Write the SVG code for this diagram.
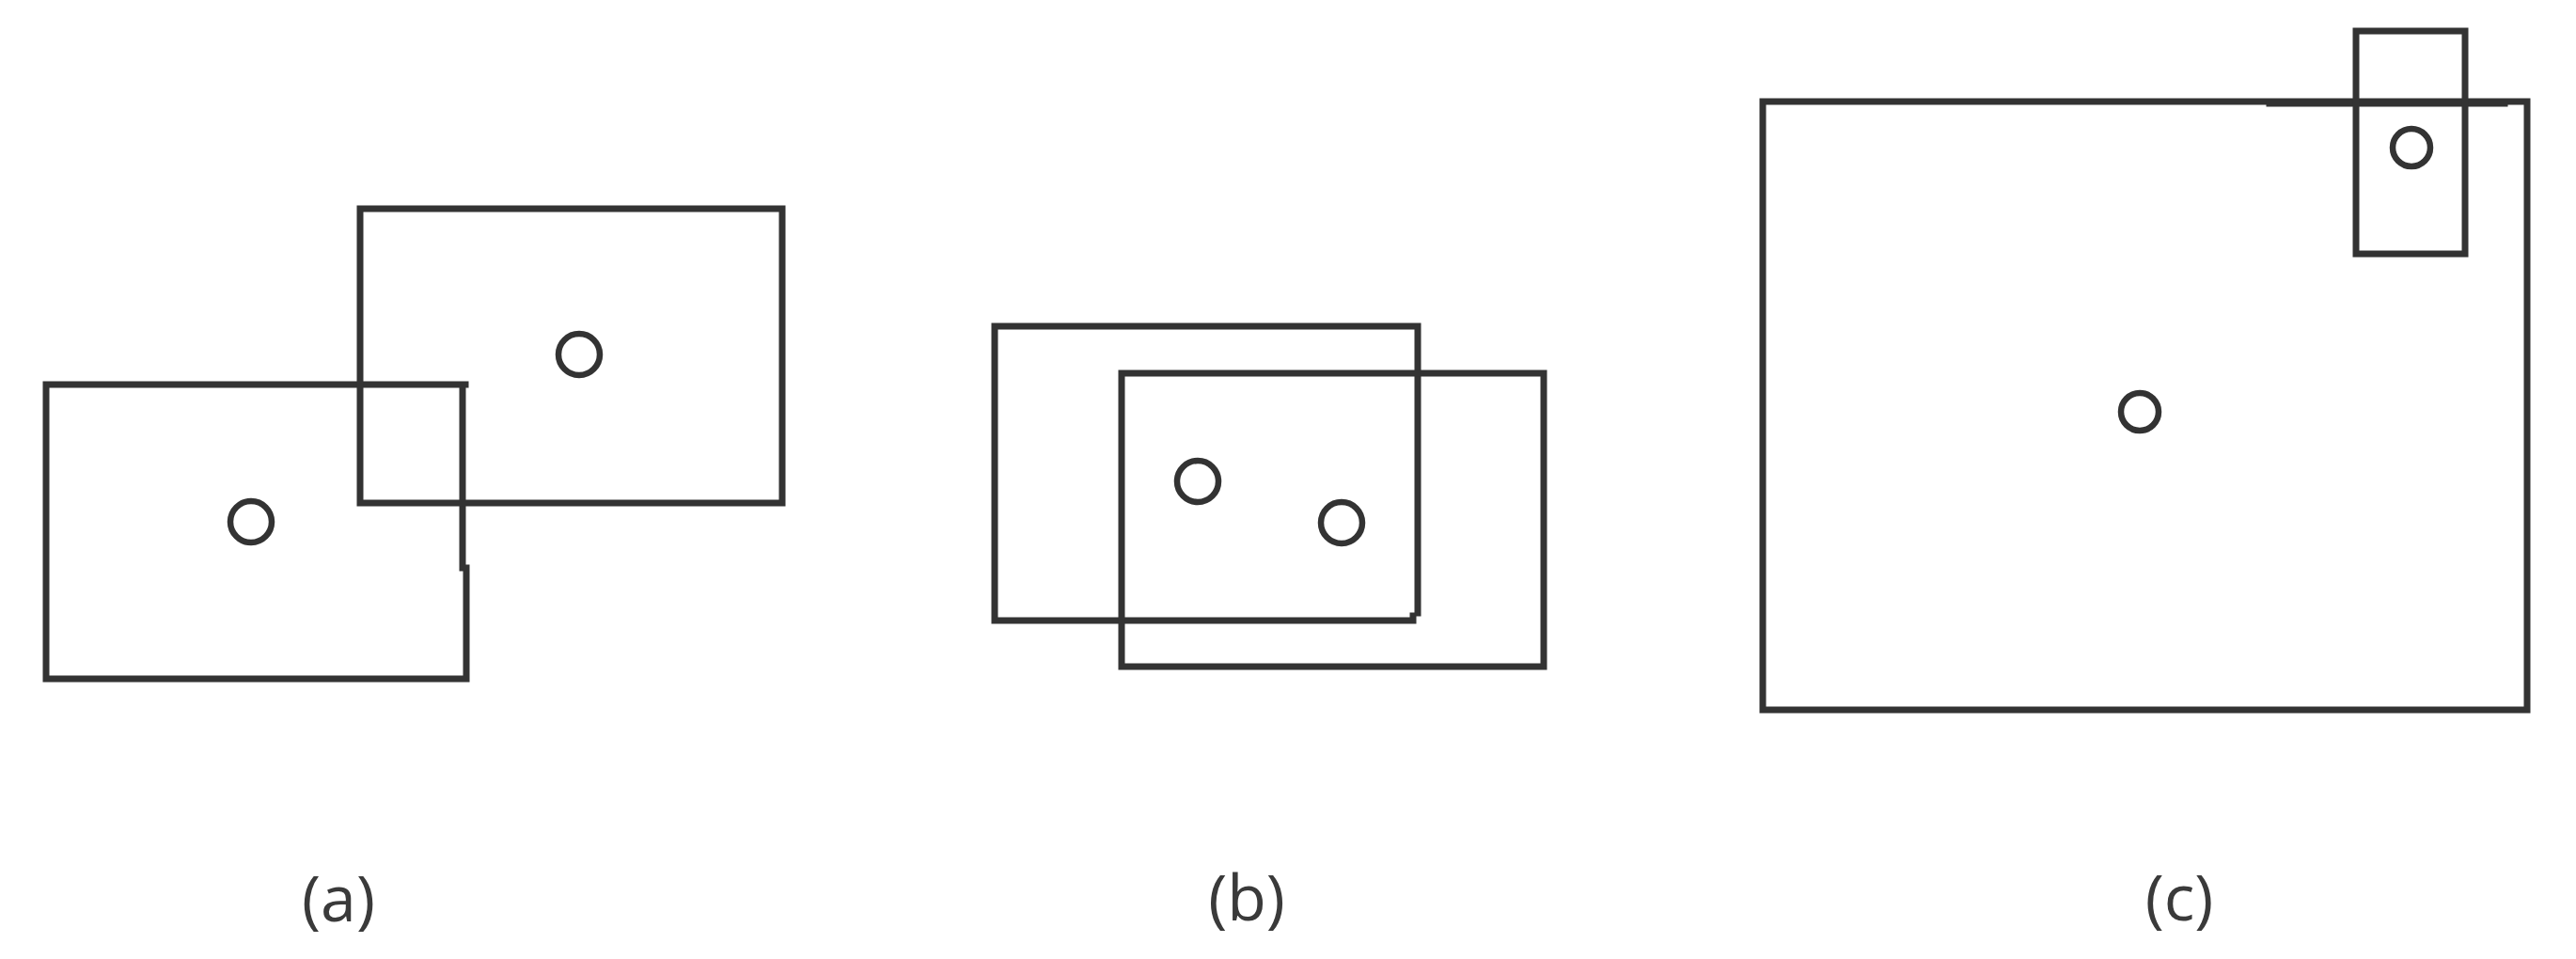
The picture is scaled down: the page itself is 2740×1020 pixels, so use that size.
<svg xmlns="http://www.w3.org/2000/svg" width="2740" height="1020" viewBox="0 0 2740 1020">
<style>
.e{fill:none;stroke:#333;stroke-width:7;stroke-linecap:square}
.c{fill:none;stroke:#333;stroke-width:6.5}
.t{font-family:"Open Sans","Noto Sans",sans-serif;font-size:68px;fill:#3a3a3a;text-anchor:middle}
</style>
<rect width="2740" height="1020" fill="#fff"/>
<g id="panel-a">
  <g id="a-rect1">
    <path class="e" d="M49,409 H495 M49,409 V722 H496 V604 M492,412 V604"/>
  </g>
  <g id="a-rect2">
    <rect class="e" x="383" y="222" width="449" height="313"/>
  </g>
  <g id="a-dot1"><circle class="c" cx="267" cy="555" r="22"/></g>
  <g id="a-dot2"><circle class="c" cx="616" cy="377" r="22"/></g>
  <text class="t" x="360" y="980">(a)</text>
</g>
<g id="panel-b">
  <g id="b-rect1">
    <path class="e" d="M1058,347 H1508 V652 M1058,347 V660 H1503 V655"/>
  </g>
  <g id="b-rect2">
    <rect class="e" x="1193" y="397" width="449" height="312"/>
  </g>
  <g id="b-dot1"><circle class="c" cx="1274" cy="512" r="22"/></g>
  <g id="b-dot2"><circle class="c" cx="1427" cy="556" r="22"/></g>
  <text class="t" x="1326" y="979">(b)</text>
</g>
<g id="panel-c">
  <g id="c-rect-big">
    <rect class="e" x="1875" y="108" width="813" height="647"/>
    <path class="e" d="M2414,110 H2664"/>
  </g>
  <g id="c-rect-small">
    <rect class="e" x="2506" y="33" width="116" height="237"/>
  </g>
  <g id="c-dot1"><circle class="c" cx="2276" cy="438" r="20"/></g>
  <g id="c-dot2"><circle class="c" cx="2565" cy="157" r="20"/></g>
  <text class="t" x="2318" y="979">(c)</text>
</g>
</svg>
